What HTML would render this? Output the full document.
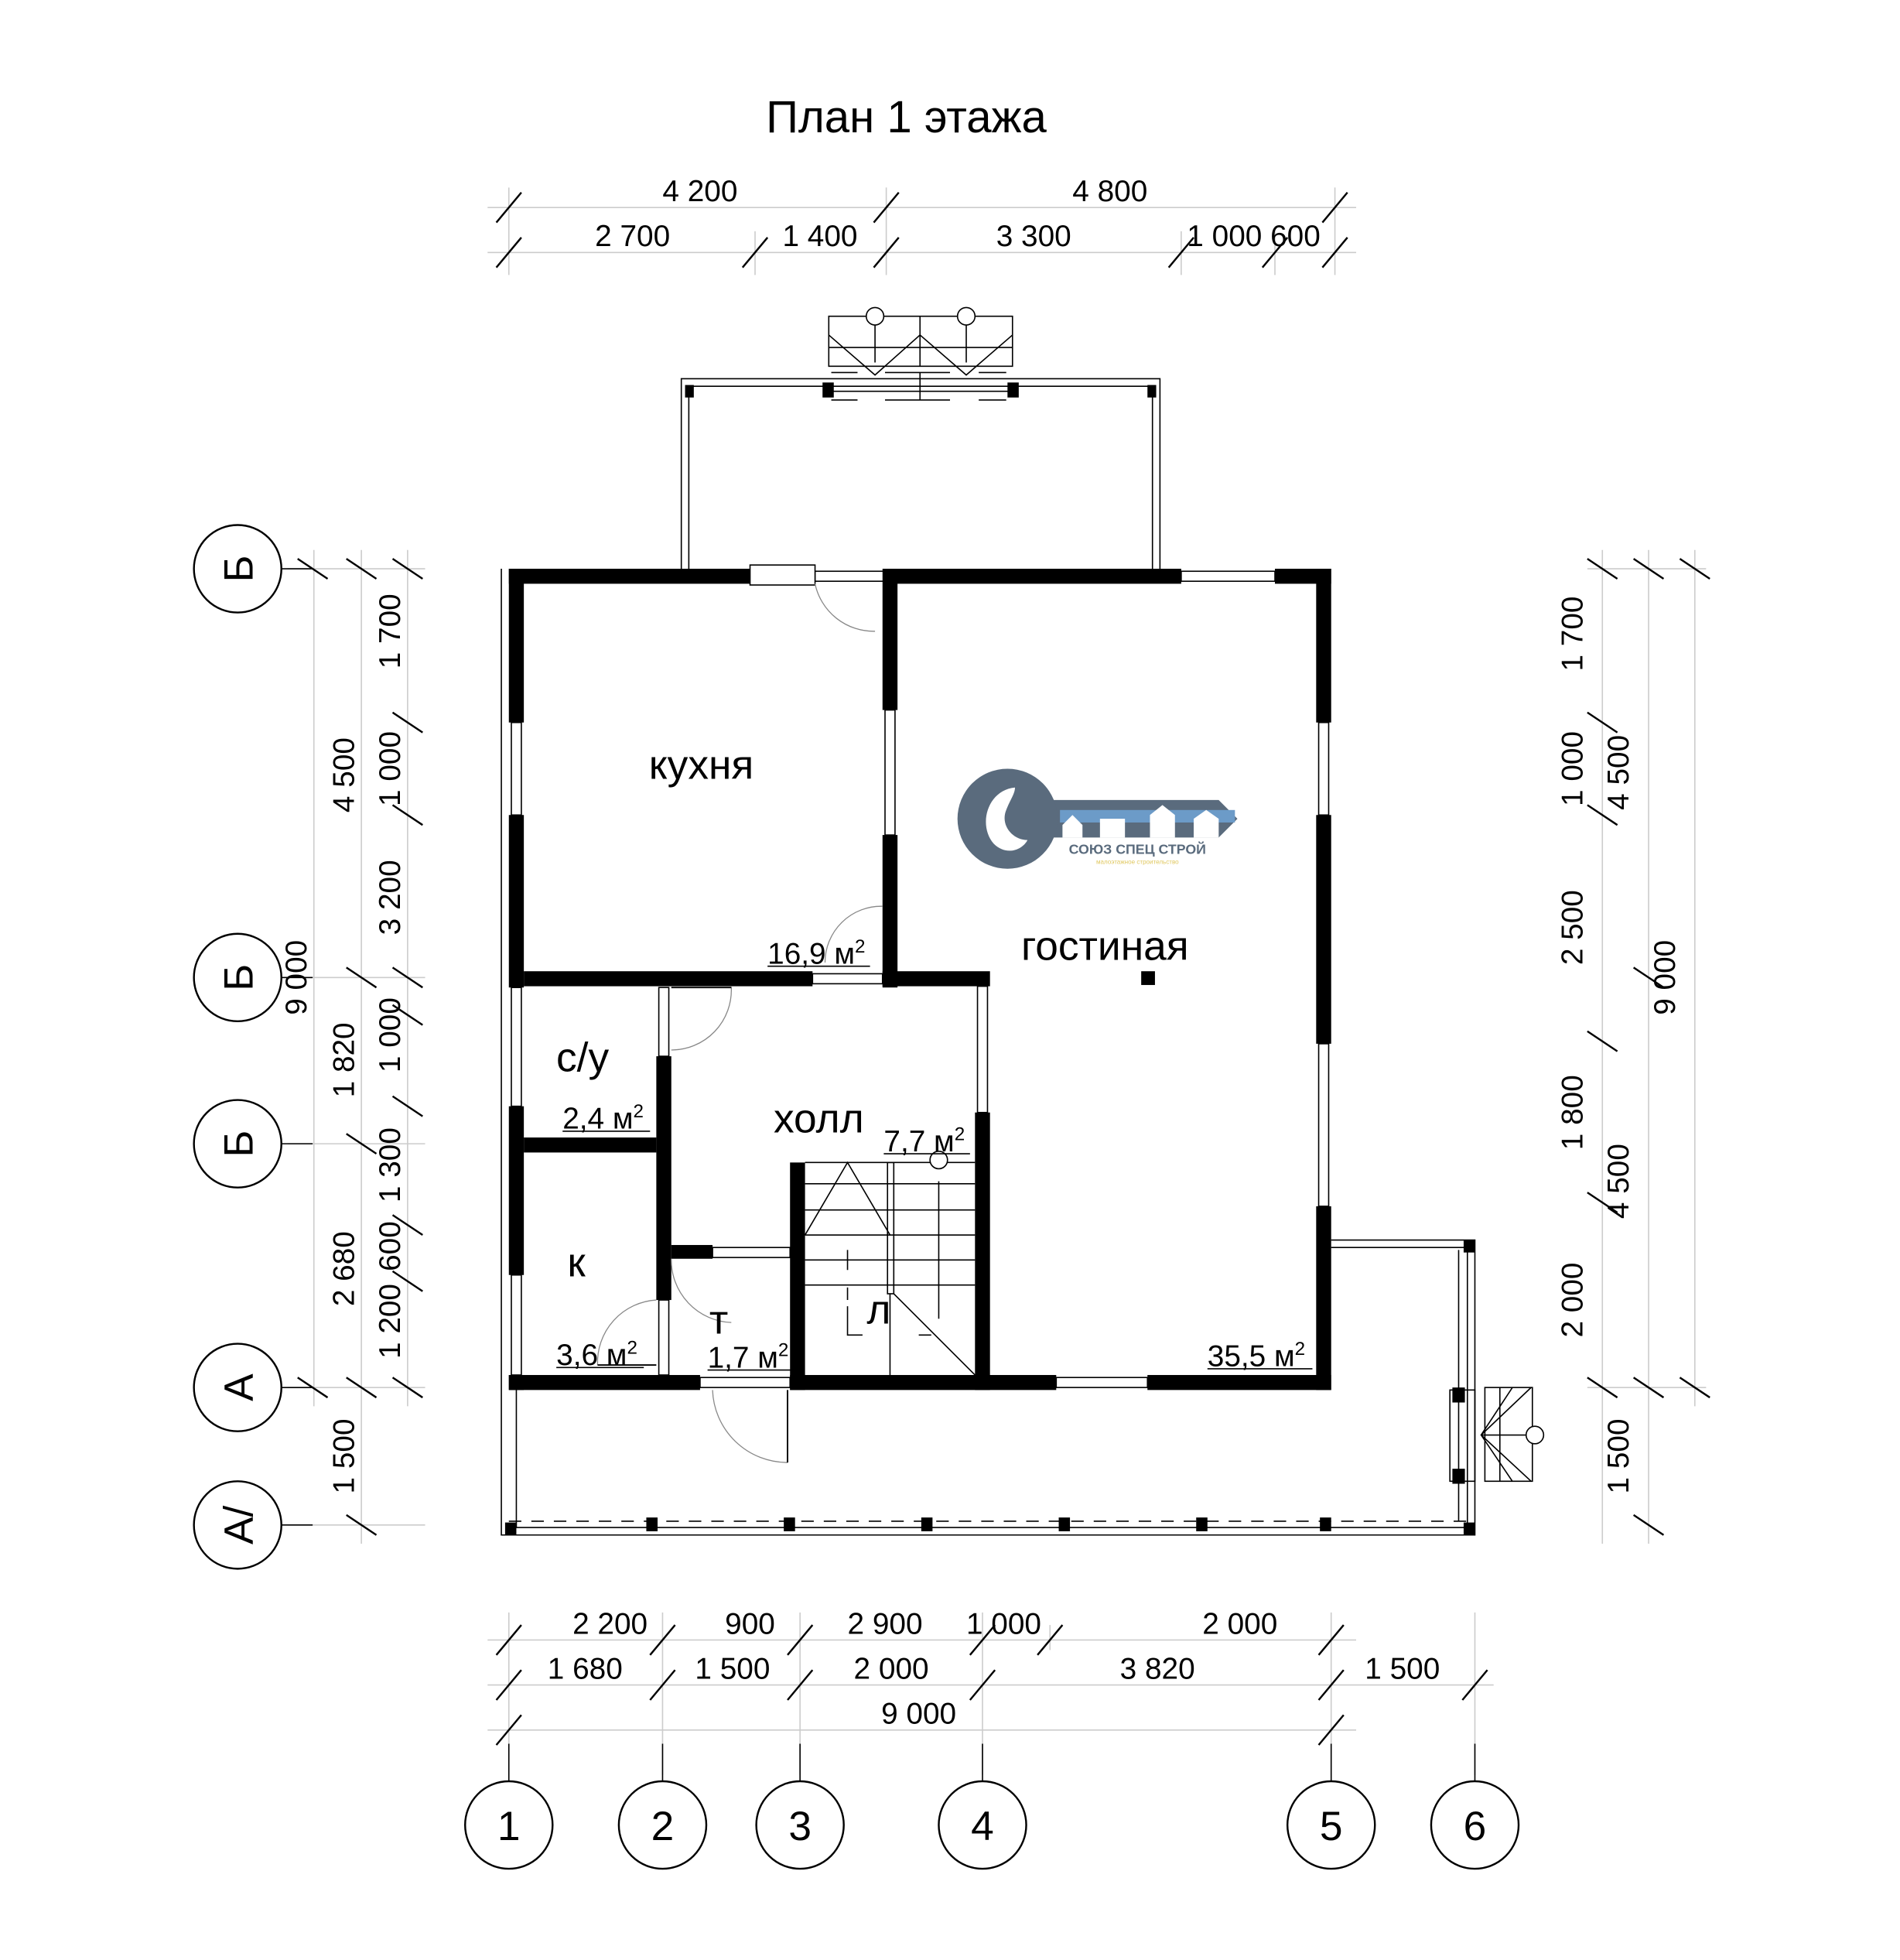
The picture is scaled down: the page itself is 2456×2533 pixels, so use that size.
<!DOCTYPE html>
<html><head><meta charset="utf-8"><style>
html,body{margin:0;padding:0;background:#fff;}
svg{display:block;}
text{font-family:"Liberation Sans Narrow","Liberation Sans",sans-serif;fill:#000;}
</style></head><body>
<svg width="2456" height="2533" viewBox="0 0 1520 1568" xmlns="http://www.w3.org/2000/svg">
<rect width="1520" height="1568" fill="#fff"/>
<text x="725" y="106" font-size="36" text-anchor="middle" font-family="Liberation Sans, sans-serif">План 1 этажа</text>

<!-- extension lines (gray) -->
<g stroke="#ccc" stroke-width="1">
<line x1="390" y1="166" x2="1085" y2="166"/><line x1="390" y1="202" x2="1085" y2="202"/>
<line x1="407" y1="150" x2="407" y2="220"/><line x1="709" y1="150" x2="709" y2="220"/><line x1="1068" y1="150" x2="1068" y2="220"/>
<line x1="604" y1="185" x2="604" y2="220"/><line x1="945" y1="185" x2="945" y2="220"/><line x1="1020" y1="185" x2="1020" y2="220"/>
<line x1="251" y1="440" x2="251" y2="1125"/><line x1="289" y1="440" x2="289" y2="1235"/><line x1="326" y1="440" x2="326" y2="1125"/>
<line x1="1282" y1="440" x2="1282" y2="1235"/><line x1="1319" y1="440" x2="1319" y2="1235"/><line x1="1356" y1="440" x2="1356" y2="1125"/>
<line x1="390" y1="1312" x2="1085" y2="1312"/><line x1="390" y1="1348" x2="1195" y2="1348"/><line x1="390" y1="1384" x2="1085" y2="1384"/>
<line x1="407" y1="1290" x2="407" y2="1420"/><line x1="530" y1="1290" x2="530" y2="1420"/><line x1="640" y1="1290" x2="640" y2="1420"/>
<line x1="786" y1="1290" x2="786" y2="1420"/><line x1="1065" y1="1290" x2="1065" y2="1420"/><line x1="1180" y1="1290" x2="1180" y2="1420"/>
<line x1="840" y1="1300" x2="840" y2="1320"/>
</g>
<g stroke="#ccc" stroke-width="1">
<line x1="230" y1="455" x2="340" y2="455"/><line x1="230" y1="782" x2="340" y2="782"/><line x1="230" y1="915" x2="340" y2="915"/>
<line x1="230" y1="1110" x2="340" y2="1110"/><line x1="230" y1="1220" x2="340" y2="1220"/>
<line x1="1270" y1="455" x2="1365" y2="455"/><line x1="1270" y1="1110" x2="1365" y2="1110"/>
</g>

<!-- ticks -->
<g stroke="#000" stroke-width="1.5">
<path d="M397 178 L417 154 M699 178 L719 154 M1058 178 L1078 154"/>
<path d="M397 214 L417 190 M594 214 L614 190 M699 214 L719 190 M935 214 L955 190 M1010 214 L1030 190 M1058 214 L1078 190"/>
<path d="M397 1324 L417 1300 M520 1324 L540 1300 M630 1324 L650 1300 M776 1324 L796 1300 M830 1324 L850 1300 M1055 1324 L1075 1300"/>
<path d="M397 1360 L417 1336 M520 1360 L540 1336 M630 1360 L650 1336 M776 1360 L796 1336 M1055 1360 L1075 1336 M1170 1360 L1190 1336"/>
<path d="M397 1396 L417 1372 M1055 1396 L1075 1372"/>
<path d="M238 447 L262 463 M238 1102 L262 1118"/>
<path d="M277 447 L301 463 M277 774 L301 790 M277 907 L301 923 M277 1102 L301 1118 M277 1212 L301 1228"/>
<path d="M314 447 L338 463 M314 570 L338 586 M314 644 L338 660 M314 774 L338 790 M314 804 L338 820 M314 877 L338 893 M314 972 L338 988 M314 1017 L338 1033 M314 1102 L338 1118"/>
<path d="M1270 447 L1294 463 M1270 570 L1294 586 M1270 644 L1294 660 M1270 825 L1294 841 M1270 954 L1294 970 M1270 1102 L1294 1118"/>
<path d="M1307 447 L1331 463 M1307 1102 L1331 1118 M1307 1212 L1331 1228"/>
<path d="M1344 447 L1368 463 M1307 774 L1331 790 M1344 1102 L1368 1118"/>
</g>

<!-- dimension texts -->
<g font-size="24" text-anchor="middle">
<text x="560" y="161">4 200</text><text x="888" y="161">4 800</text>
<text x="506" y="197">2 700</text><text x="656" y="197">1 400</text><text x="827" y="197">3 300</text><text x="1003" y="197">1 000 600</text>
<text x="488" y="1307">2 200</text><text x="600" y="1307">900</text><text x="708" y="1307">2 900</text><text x="803" y="1307">1 000</text><text x="992" y="1307">2 000</text>
<text x="468" y="1343">1 680</text><text x="586" y="1343">1 500</text><text x="713" y="1343">2 000</text><text x="926" y="1343">3 820</text><text x="1122" y="1343">1 500</text>
<text x="735" y="1379">9 000</text>
</g>
<g font-size="24" text-anchor="middle">
<text transform="translate(245,782) rotate(-90)">9 000</text>
<text transform="translate(283,620) rotate(-90)">4 500</text>
<text transform="translate(283,848) rotate(-90)">1 820</text>
<text transform="translate(283,1015) rotate(-90)">2 680</text>
<text transform="translate(283,1165) rotate(-90)">1 500</text>
<text transform="translate(320,505) rotate(-90)">1 700</text>
<text transform="translate(320,615) rotate(-90)">1 000</text>
<text transform="translate(320,718) rotate(-90)">3 200</text>
<text transform="translate(320,828) rotate(-90)">1 000</text>
<text transform="translate(320,932) rotate(-90)">1 300</text>
<text transform="translate(320,997) rotate(-90)">600</text>
<text transform="translate(320,1057) rotate(-90)">1 200</text>
<text transform="translate(1266,507) rotate(-90)">1 700</text>
<text transform="translate(1266,615) rotate(-90)">1 000</text>
<text transform="translate(1266,742) rotate(-90)">2 500</text>
<text transform="translate(1266,890) rotate(-90)">1 800</text>
<text transform="translate(1266,1040) rotate(-90)">2 000</text>
<text transform="translate(1303,1165) rotate(-90)">1 500</text>
<text transform="translate(1303,618) rotate(-90)">4 500</text>
<text transform="translate(1303,945) rotate(-90)">4 500</text>
<text transform="translate(1340,782) rotate(-90)">9 000</text>
</g>

<!-- axis circles -->
<g stroke="#000" stroke-width="1.5" fill="#fff">
<circle cx="190" cy="455" r="35"/><circle cx="190" cy="782" r="35"/><circle cx="190" cy="915" r="35"/>
<circle cx="190" cy="1110" r="35"/><circle cx="190" cy="1220" r="35"/>
<circle cx="407" cy="1460" r="35"/><circle cx="530" cy="1460" r="35"/><circle cx="640" cy="1460" r="35"/>
<circle cx="786" cy="1460" r="35"/><circle cx="1065" cy="1460" r="35"/><circle cx="1180" cy="1460" r="35"/>
</g>
<g stroke="#000" stroke-width="1"><path d="M225 455 H250 M225 782 H250 M225 915 H250 M225 1110 H250 M225 1220 H250"/>
<path d="M407 1395 V1425 M530 1395 V1425 M640 1395 V1425 M786 1395 V1425 M1065 1395 V1425 M1180 1395 V1425"/></g>
<g font-size="33" text-anchor="middle" font-family="Liberation Sans, sans-serif">
<text transform="translate(202,455) rotate(-90)">Б</text>
<text transform="translate(202,782) rotate(-90)">Б</text>
<text transform="translate(202,915) rotate(-90)">Б</text>
<text transform="translate(202,1110) rotate(-90)">А</text>
<text transform="translate(202,1220) rotate(-90)">А/</text>
<text x="407" y="1472">1</text><text x="530" y="1472">2</text><text x="640" y="1472">3</text>
<text x="786" y="1472">4</text><text x="1065" y="1472">5</text><text x="1180" y="1472">6</text>
</g>

<!-- terrace / veranda thin lines -->
<g stroke="#000" stroke-width="1" fill="none">
<path d="M545 455 V303 H928 V455"/><path d="M551 455 V309 H922 V455"/>
<path d="M663 313 H810"/>
<rect x="663" y="253" width="147" height="40"/><line x1="736" y1="253" x2="736" y2="293"/>
<line x1="663" y1="278" x2="810" y2="278"/>
<path d="M663 268 L700 300 L736 268 L773 300 L810 268"/>
<line x1="700" y1="253" x2="700" y2="290"/><line x1="773" y1="253" x2="773" y2="290"/>
<path d="M665 298 H686 M708 298 H760 M783 298 H805 M665 320 H686 M708 320 H760 M783 320 H805 M736 298 V320"/>
<path d="M401 455 V1228 H1180 V992 H1065"/><path d="M413 1112 V1222 H1174 V998 H1065"/>
<line x1="407" y1="1217" x2="1180" y2="1217" stroke-dasharray="10 8"/>
<line x1="1167" y1="1000" x2="1167" y2="1217"/>
<rect x="1160" y="1112" width="20" height="73"/>
<rect x="1188" y="1110" width="38" height="75"/><line x1="1200" y1="1110" x2="1200" y2="1185"/>
<path d="M1225 1110 L1185 1148 L1225 1185 M1210 1110 L1185 1148 L1210 1185 M1185 1148 H1222"/>
</g>
<circle cx="700" cy="253" r="7" fill="#fff" stroke="#000"/><circle cx="773" cy="253" r="7" fill="#fff" stroke="#000"/>
<circle cx="1228" cy="1148" r="7" fill="#fff" stroke="#000"/>

<!-- posts -->
<g fill="#000">
<rect x="658" y="306" width="9" height="12"/><rect x="806" y="306" width="9" height="12"/>
<rect x="548" y="308" width="7" height="10"/><rect x="918" y="308" width="7" height="10"/>
<rect x="517" y="1214" width="9" height="11"/><rect x="627" y="1214" width="9" height="11"/><rect x="737" y="1214" width="9" height="11"/>
<rect x="847" y="1214" width="9" height="11"/><rect x="957" y="1214" width="9" height="11"/><rect x="1056" y="1214" width="9" height="11"/>
<rect x="1171" y="992" width="9" height="10"/><rect x="1171" y="1218" width="9" height="10"/><rect x="404" y="1218" width="9" height="10"/>
<rect x="1162" y="1110" width="10" height="12"/><rect x="1162" y="1175" width="10" height="12"/>
</g>

<!-- windows -->
<g stroke="#000" stroke-width="1" fill="#fff">
<rect x="409" y="578" width="8" height="74"/><rect x="409" y="790" width="8" height="95"/><rect x="409" y="1020" width="8" height="80"/>
<rect x="1055" y="578" width="8" height="74"/><rect x="1055" y="835" width="8" height="130"/>
<rect x="652" y="457" width="58" height="8"/><rect x="945" y="457" width="75" height="8"/><rect x="845" y="1102" width="73" height="8"/>
<rect x="600" y="452" width="52" height="16"/>
<rect x="708" y="568" width="8" height="100"/><rect x="650" y="779" width="56" height="8"/>
<rect x="782" y="789" width="8" height="101"/><rect x="527" y="790" width="8" height="55"/>
<rect x="527" y="1040" width="8" height="60"/><rect x="570" y="998" width="62" height="8"/>
<rect x="560" y="1102" width="72" height="8"/>
</g>

<!-- walls -->
<g fill="#000">
<rect x="407" y="455" width="193" height="12"/><rect x="710" y="455" width="235" height="12"/><rect x="1020" y="455" width="45" height="12"/>
<rect x="407" y="455" width="12" height="123"/><rect x="407" y="652" width="12" height="138"/><rect x="407" y="885" width="12" height="135"/><rect x="407" y="1100" width="12" height="12"/>
<rect x="1053" y="455" width="12" height="123"/><rect x="1053" y="652" width="12" height="183"/><rect x="1053" y="965" width="12" height="147"/>
<rect x="407" y="1100" width="153" height="12"/><rect x="632" y="1100" width="213" height="12"/><rect x="918" y="1100" width="147" height="12"/>
<rect x="706" y="455" width="12" height="113"/><rect x="706" y="668" width="12" height="122"/>
<rect x="419" y="777" width="231" height="12"/><rect x="706" y="777" width="86" height="12"/>
<rect x="780" y="890" width="12" height="222"/>
<rect x="525" y="845" width="12" height="195"/>
<rect x="419" y="910" width="106" height="12"/>
<rect x="632" y="930" width="12" height="182"/>
<rect x="537" y="996" width="33" height="11"/>
<rect x="913" y="777" width="11" height="11"/>
</g>

<!-- doors -->
<g stroke="#888" stroke-width="0.8" fill="none">
<path d="M652 467 A48 48 0 0 0 700 505"/><path d="M706 725 A45 45 0 0 0 660 770"/>
<path d="M537 790 H585 A48 48 0 0 1 537 840"/><path d="M537 1007 A50 50 0 0 0 585 1058 "/>
<path d="M525 1040 A50 50 0 0 0 478 1092"/><path d="M570 1112 A60 60 0 0 0 630 1170"/>
</g>
<g stroke="#000" stroke-width="1.2"><line x1="630" y1="1112" x2="630" y2="1170"/><line x1="537" y1="790" x2="585" y2="790"/><line x1="478" y1="1092" x2="525" y2="1092"/></g>

<!-- stairs -->
<g stroke="#000" stroke-width="1" fill="none">
<line x1="644" y1="930" x2="780" y2="930"/>
<path d="M644 988 L678 930 L712 988"/>
<path d="M644 947 H780 M644 968 H780 M644 988 H780 M644 1008 H780 M644 1028 H780"/>
<rect x="710" y="930" width="5" height="105"/>
<line x1="715" y1="1035" x2="780" y2="1100"/>
<line x1="712" y1="1035" x2="712" y2="1100"/>
<path d="M678 1045 V1068 H690 M735 1068 H745"/>
<path d="M678 1000 V1016 M678 1030 V1040 M751 945 V1055"/>
</g>
<circle cx="751" cy="928" r="7" fill="#fff" stroke="#000"/>

<!-- room labels -->
<g font-family="Liberation Sans, sans-serif" text-anchor="middle">
<text x="561" y="623" font-size="33">кухня</text>
<text x="884" y="768" font-size="33">гостиная</text>
<text x="466" y="857" font-size="33">с/у</text>
<text x="655" y="906" font-size="33">холл</text>
<text x="461" y="1021" font-size="33">к</text>
<text x="575" y="1067" font-size="33">т</text>
<text x="703" y="1059" font-size="33">л</text>
</g>
<g font-size="24">
<text x="614" y="771">16,9 м<tspan font-size="15" dy="-9">2</tspan></text>
<text x="450" y="903">2,4 м<tspan font-size="15" dy="-9">2</tspan></text>
<text x="707" y="921">7,7 м<tspan font-size="15" dy="-9">2</tspan></text>
<text x="445" y="1092">3,6 м<tspan font-size="15" dy="-9">2</tspan></text>
<text x="566" y="1094">1,7 м<tspan font-size="15" dy="-9">2</tspan></text>
<text x="966" y="1093">35,5 м<tspan font-size="15" dy="-9">2</tspan></text>
</g>
<g stroke="#000" stroke-width="1"><path d="M614 773 H696 M450 905 H520 M707 923 H776 M445 1094 H515 M566 1096 H636 M966 1095 H1050"/></g>

<!-- logo -->
<g>
<path d="M830 640 H975 L990 655 L975 670 H830 Z" fill="#5a6b7d"/>
<rect x="848" y="648" width="140" height="10" fill="#6c9bc8"/>
<path d="M850 670 V660 L858 652 L866 660 V670 Z M880 670 V655 H900 V670 Z M920 670 V652 L930 644 L940 652 V670 Z M955 670 V655 L965 648 L975 655 V670 Z" fill="#fff"/>
<circle cx="806" cy="655" r="40" fill="#5a6b7d"/>
<path d="M812 630 C790 632 782 660 795 675 C805 685 818 680 822 672 C810 672 800 660 805 648 C808 640 812 635 812 630 Z" fill="#fff"/>
<text x="910" y="683" font-size="11" font-weight="bold" text-anchor="middle" style="fill:#5a6b7d" font-family="Liberation Sans, sans-serif">СОЮЗ СПЕЦ СТРОЙ</text>
<text x="910" y="691" font-size="5" text-anchor="middle" style="fill:#e0c860" font-family="Liberation Sans, sans-serif">малоэтажное строительство</text>
</g>
</svg>
</body></html>
